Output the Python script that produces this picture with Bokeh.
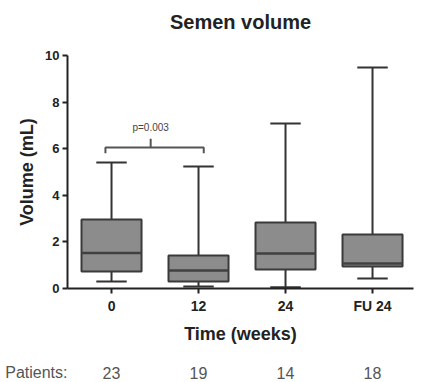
from bokeh.plotting import figure
from bokeh.models import FixedTicker, Label, ColumnDataSource, Range1d
from bokeh.layouts import column
from bokeh.embed import file_html
from bokeh.resources import INLINE
from bokeh.core.properties import value

title_text = "Semen volume"
groups = ["0", "12", "24", "FU 24"]
whisker_low = [0.30, 0.09, 0.05, 0.43]
q1 = [0.73, 0.30, 0.82, 0.94]
median = [1.52, 0.77, 1.50, 1.07]
q3 = [2.96, 1.42, 2.83, 2.32]
whisker_high = [5.41, 5.24, 7.08, 9.48]
patients = [23, 19, 14, 18]
p_text = "p=0.003"
bracket_y = 6.05

xs = list(range(len(groups)))
box_w = 0.69
cap_w = 0.35

FONT = "Liberation Sans"
X_RANGE = Range1d(-0.506, 3.471)


def strip(height):
    f = figure(frame_width=346, frame_height=height, x_range=X_RANGE, y_range=Range1d(0, height),
               output_backend="svg", toolbar_location=None,
               min_border_left=67, min_border_right=8, min_border_top=0, min_border_bottom=0)
    f.xaxis.visible = False
    f.grid.visible = False
    f.outline_line_color = None
    f.border_fill_color = "white"
    return f


# title strip
p0 = strip(40)
p0.yaxis.visible = False
p0.text(x=[(X_RANGE.start + X_RANGE.end) / 2], y=[19], text=[title_text], text_align="center",
        text_baseline="middle", text_font=value(FONT), text_font_size="20px",
        text_font_style="bold", text_color="#222222")

p = figure(frame_width=346, frame_height=233, x_range=X_RANGE, y_range=(0, 10),
           output_backend="svg", toolbar_location=None,
           min_border_left=67, min_border_right=8, min_border_top=15, min_border_bottom=56)
p.outline_line_color = None
p.xgrid.visible = False
p.ygrid.visible = False
p.background_fill_color = "white"
p.border_fill_color = "white"

src = ColumnDataSource(dict(x=xs, lo=whisker_low, q1=q1, med=median, q3=q3, hi=whisker_high,
                            cl=[x - cap_w / 2 for x in xs], cr=[x + cap_w / 2 for x in xs],
                            bl=[x - box_w / 2 for x in xs], br=[x + box_w / 2 for x in xs]))

wc = "#333333"
p.segment(x0="x", y0="q3", x1="x", y1="hi", source=src, line_color=wc, line_width=2)
p.segment(x0="x", y0="lo", x1="x", y1="q1", source=src, line_color=wc, line_width=2)
p.segment(x0="cl", y0="hi", x1="cr", y1="hi", source=src, line_color=wc, line_width=2)
p.segment(x0="cl", y0="lo", x1="cr", y1="lo", source=src, line_color=wc, line_width=2)
p.vbar(x="x", width=box_w, bottom="q1", top="q3", source=src,
       fill_color="#8c8c8c", line_color="#3a3a3a", line_width=2)
p.segment(x0="bl", y0="med", x1="br", y1="med", source=src, line_color="#404040", line_width=2.5)

# significance bracket between groups 0 and 1
bx0, bx1 = xs[0] - 0.07, xs[1] + 0.06
p.line([bx0, bx0, bx1, bx1], [bracket_y - 0.25, bracket_y, bracket_y, bracket_y - 0.25],
       line_color="#555555", line_width=2)
bmid = (xs[0] + xs[1]) / 2 - 0.05
p.line([bmid, bmid], [bracket_y, bracket_y + 0.38], line_color="#555555", line_width=2)
p.add_layout(Label(x=bmid, y=bracket_y + 0.85, text=p_text, text_align="center",
                   text_baseline="middle", text_font=FONT, text_font_size="10px",
                   text_color="#444444"))

# axes
for ax in (p.xaxis[0], p.yaxis[0]):
    ax.axis_line_width = 2
    ax.axis_line_color = "#222222"
    ax.major_tick_line_width = 2
    ax.major_tick_line_color = "#222222"
    ax.major_tick_out = 5
    ax.major_tick_in = 0
    ax.minor_tick_line_color = None
    ax.major_label_text_font = FONT
    ax.major_label_text_font_style = "bold"
    ax.major_label_text_font_size = "13px"
    ax.major_label_text_color = "#222222"
    ax.axis_label_text_font = FONT
    ax.axis_label_text_font_style = "bold"
    ax.axis_label_text_font_size = "18px"
    ax.axis_label_text_color = "#222222"

p.xaxis.ticker = FixedTicker(ticks=xs)
p.xaxis.major_label_overrides = {i: g for i, g in zip(xs, groups)}
p.xaxis.major_label_text_font_size = "14px"
p.xaxis.axis_label = "Time (weeks)"
p.xaxis.major_label_standoff = 4
p.xaxis.axis_label_standoff = 7

p.yaxis.ticker = FixedTicker(ticks=[0, 2, 4, 6, 8, 10])
p.yaxis.axis_label = "Volume (mL)"
p.yaxis.major_label_standoff = 3
p.yaxis.axis_label_standoff = 5

# patients row
row_y = 12
p2 = strip(38)
p2.yaxis.ticker = FixedTicker(ticks=[row_y])
p2.yaxis.major_label_overrides = {row_y: "Patients:"}
p2.yaxis.axis_line_color = None
p2.yaxis.major_tick_line_color = None
p2.yaxis.minor_tick_line_color = None
p2.yaxis.major_tick_out = 0
p2.yaxis.major_tick_in = 0
p2.yaxis.major_label_standoff = 0
p2.yaxis.major_label_text_font = FONT
p2.yaxis.major_label_text_font_size = "16px"
p2.yaxis.major_label_text_color = "#555555"

row_src = ColumnDataSource(dict(x=xs, y=[row_y] * len(xs), t=[str(n) for n in patients]))
p2.text(x="x", y="y", text="t", source=row_src, text_align="center", text_baseline="middle",
        text_font=value(FONT), text_font_size="16px", text_color="#555555")

layout = column(p0, p, p2, spacing=0)
open("out.html", "w").write(file_html(layout, INLINE))
